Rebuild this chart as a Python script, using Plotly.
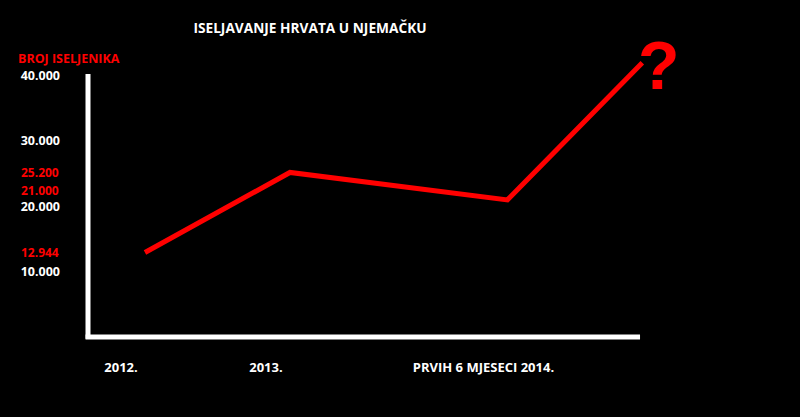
import plotly.graph_objects as go

# Data
period_labels = ["2012.", "2013.", "PRVIH 6 MJESECI 2014."]
period_x = [2012, 2013, 2014.5]
emigrants = [12944, 25200, 21000]
projection_x = 2015.43
projection_y = 42000
y_ticks = [10000, 20000, 30000, 40000]

def fmt(v):
    return f"{v:,}".replace(",", ".")

RED = "#ff0000"
FONT = "Open Sans"

fig = go.Figure()
fig.add_trace(go.Scatter(
    x=period_x + [projection_x],
    y=emigrants + [projection_y],
    mode="lines",
    line=dict(color=RED, width=5),
    cliponaxis=False,
    hoverinfo="skip",
))

annotations = []
shifts = {21000: 9}
for v in emigrants:
    annotations.append(dict(
        xref="paper", x=0, xanchor="right", xshift=-27,
        yref="y", y=v, yanchor="middle", yshift=shifts.get(v, 0),
        text=fmt(v), showarrow=False,
        font=dict(family=FONT, size=12, color=RED, weight=700),
    ))
annotations.append(dict(
    xref="x", x=projection_x, xanchor="left", xshift=-6,
    yref="y", y=projection_y, yanchor="middle", yshift=-2,
    text="?", showarrow=False,
    font=dict(family="Liberation Sans", size=68, color=RED, weight=900),
))
annotations.append(dict(
    xref="paper", x=0, xanchor="left", xshift=-72,
    yref="paper", y=1, yanchor="middle", yshift=-8,
    text="BROJ ISELJENIKA", showarrow=False,
    font=dict(family=FONT, size=12.5, color=RED, weight=700),
))

fig.update_layout(
    width=800, height=417,
    paper_bgcolor="black", plot_bgcolor="black",
    margin=dict(l=88, r=100, t=50, b=80),
    showlegend=False,
    title=dict(text="ISELJAVANJE HRVATA U NJEMAČKU", x=310/800, xanchor="center",
               y=1 - 28/417, yanchor="middle",
               font=dict(family=FONT, size=13.7, color="white", weight=700)),
    xaxis=dict(range=[2011.607, 2015.828], showgrid=False, zeroline=False, showline=False,
               tickvals=period_x, ticktext=period_labels, ticks="",
               ticklabelstandoff=21, ticklabelshift=-24,
               tickfont=dict(family=FONT, size=13, color="white", weight=700)),
    yaxis=dict(range=[0, 43951], showgrid=False, zeroline=False, showline=False,
               tickvals=y_ticks, ticktext=[fmt(v) for v in y_ticks], ticks="",
               ticklabelstandoff=27,
               tickfont=dict(family=FONT, size=12.5, color="white", weight=700)),
    annotations=annotations,
    shapes=[
        dict(type="line", xref="paper", yref="paper", x0=0, x1=0, y0=-0.006, y1=0.916,
             line=dict(color="white", width=5)),
        dict(type="line", xref="paper", yref="paper", x0=-0.004, x1=0.902, y0=0, y1=0,
             line=dict(color="white", width=5)),
    ],
)

fig.write_html(
    "out.html",
    config={"displayModeBar": False},
    post_script="document.body.style.margin='0';document.body.style.background='black';",
)
